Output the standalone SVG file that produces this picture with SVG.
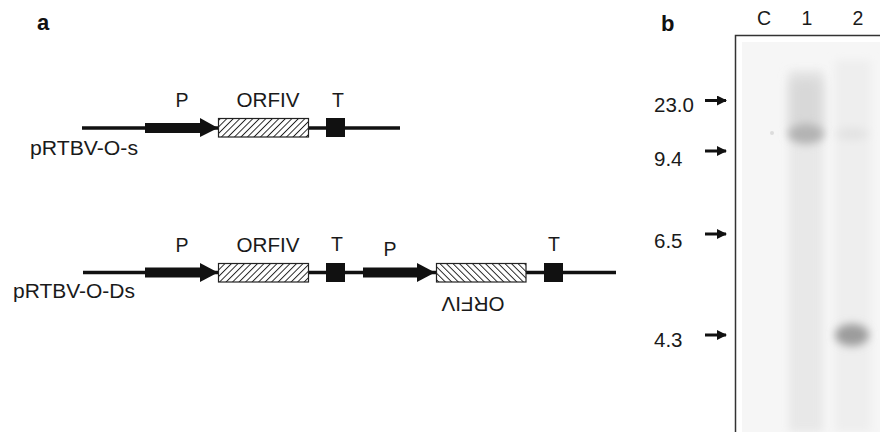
<svg xmlns="http://www.w3.org/2000/svg" width="880" height="432" viewBox="0 0 880 432">
  <defs>
    <pattern id="hatchFwd" patternUnits="userSpaceOnUse" width="4.6" height="4.6" patternTransform="rotate(45)">
      <rect width="4.6" height="4.6" fill="#fff"/>
      <line x1="0" y1="0" x2="0" y2="4.6" stroke="#222" stroke-width="1.9"/>
    </pattern>
    <pattern id="hatchRev" patternUnits="userSpaceOnUse" width="4.6" height="4.6" patternTransform="rotate(-45)">
      <rect width="4.6" height="4.6" fill="#fff"/>
      <line x1="0" y1="0" x2="0" y2="4.6" stroke="#222" stroke-width="1.9"/>
    </pattern>
    <filter id="soft" x="-50%" y="-50%" width="200%" height="200%">
      <feGaussianBlur stdDeviation="4"/>
    </filter>
    <filter id="softer" x="-50%" y="-50%" width="200%" height="200%">
      <feGaussianBlur stdDeviation="6"/>
    </filter>
    <marker id="mk" markerWidth="10" markerHeight="10" refX="9" refY="5" orient="auto" markerUnits="userSpaceOnUse">
      <path d="M0,0 L10,5 L0,10 Z" fill="#111"/>
    </marker>
  </defs>
  <style>
    .lbl { font-family: "Liberation Sans", Arial, sans-serif; font-size: 19.5px; fill: #1a1a1a; }
    .num { font-family: "Liberation Sans", Arial, sans-serif; font-size: 20.5px; fill: #1a1a1a; }
    .panel { font-family: "Liberation Sans", Arial, sans-serif; font-size: 22px; font-weight: bold; fill: #111; }
    .bb { stroke: #111; stroke-width: 3.5; fill: none; }
    .prom { fill: #111; }
    .orf { stroke: #222; stroke-width: 1.2; }
    .term { fill: #111; }
    .tick { stroke: #111; stroke-width: 3; marker-end: url(#mk); }
  </style>

  <rect width="880" height="432" fill="#fff"/>

  <!-- panel letters -->
  <text class="panel" x="37" y="30">a</text>
  <text class="panel" x="661" y="31">b</text>

  <!-- construct pRTBV-O-s -->
  <g id="construct-s">
    <line class="bb" x1="82" y1="128" x2="400" y2="128"/>
    <rect class="prom" x="145" y="123" width="56" height="10"/>
    <polygon class="prom" points="200,118 218,128 200,137"/>
    <rect class="orf" x="218.5" y="118.5" width="90" height="18.5" fill="url(#hatchFwd)"/>
    <rect class="term" x="326" y="118" width="19" height="19"/>
    <text class="lbl" x="182" y="107" text-anchor="middle">P</text>
    <text class="lbl" x="268" y="107" text-anchor="middle" textLength="63" lengthAdjust="spacingAndGlyphs">ORFIV</text>
    <text class="lbl" x="338" y="107" text-anchor="middle">T</text>
    <text class="lbl" x="30" y="155" textLength="108" lengthAdjust="spacingAndGlyphs">pRTBV-O-s</text>
  </g>

  <!-- construct pRTBV-O-Ds -->
  <g id="construct-ds">
    <line class="bb" x1="83" y1="272.5" x2="616" y2="272.5"/>
    <rect class="prom" x="145" y="267.5" width="56" height="10"/>
    <polygon class="prom" points="200,263 218,272.5 200,282"/>
    <rect class="orf" x="218.5" y="263.5" width="90" height="18.5" fill="url(#hatchFwd)"/>
    <rect class="term" x="326" y="263" width="19" height="19"/>
    <rect class="prom" x="363" y="267.5" width="55" height="10"/>
    <polygon class="prom" points="417,263 435,272.5 417,282"/>
    <rect class="orf" x="436.5" y="263.5" width="89.5" height="18.5" fill="url(#hatchRev)"/>
    <rect class="term" x="544" y="263" width="19" height="19"/>
    <text class="lbl" x="182" y="252" text-anchor="middle">P</text>
    <text class="lbl" x="268" y="252" text-anchor="middle" textLength="63" lengthAdjust="spacingAndGlyphs">ORFIV</text>
    <text class="lbl" x="337" y="251" text-anchor="middle">T</text>
    <text class="lbl" x="390" y="256" text-anchor="middle">P</text>
    <text class="lbl" x="554" y="251" text-anchor="middle">T</text>
    <text class="lbl" x="473" y="310" text-anchor="middle" textLength="63" lengthAdjust="spacingAndGlyphs" transform="rotate(180 473 303.5)">ORFIV</text>
    <text class="lbl" x="13" y="298" textLength="122" lengthAdjust="spacingAndGlyphs">pRTBV-O-Ds</text>
  </g>

  <!-- blot -->
  <g id="blot">
    <rect x="742" y="42" width="138" height="390" fill="#f6f6f6"/>
    <!-- lane smears -->
    <rect x="789" y="70" width="34" height="362" fill="#e8e8e8" filter="url(#soft)"/>
    <rect x="835" y="60" width="36" height="372" fill="#eeeeee" filter="url(#soft)"/>
    <rect x="790" y="78" width="32" height="55" fill="#d8d8d8" filter="url(#softer)"/>
    <!-- bands -->
    <ellipse cx="806" cy="134" rx="18" ry="10" fill="#b3b3b3" filter="url(#soft)"/>
    <ellipse cx="852" cy="134" rx="16" ry="6" fill="#e2e2e2" filter="url(#soft)"/>
    <ellipse cx="852" cy="335" rx="17" ry="11" fill="#9c9c9c" filter="url(#soft)"/>
    <circle cx="772" cy="133" r="2" fill="#dcdcdc"/>
    <!-- frame -->
    <path d="M880,35.5 H735.5 V432" fill="none" stroke="#333" stroke-width="1.5"/>
    <text class="lbl" x="764" y="25" text-anchor="middle">C</text>
    <text class="lbl" x="807" y="25" text-anchor="middle">1</text>
    <text class="lbl" x="858" y="25" text-anchor="middle">2</text>
  </g>

  <!-- size markers -->
  <g id="markers">
    <line class="tick" x1="705" y1="100.5" x2="726" y2="100.5"/>
    <line class="tick" x1="705" y1="151" x2="726" y2="151"/>
    <line class="tick" x1="705" y1="234" x2="726" y2="234"/>
    <line class="tick" x1="705" y1="335" x2="726" y2="335"/>
    <text class="num" x="654" y="112">23.0</text>
    <text class="num" x="654" y="166">9.4</text>
    <text class="num" x="654" y="248">6.5</text>
    <text class="num" x="654" y="347">4.3</text>
  </g>
</svg>
